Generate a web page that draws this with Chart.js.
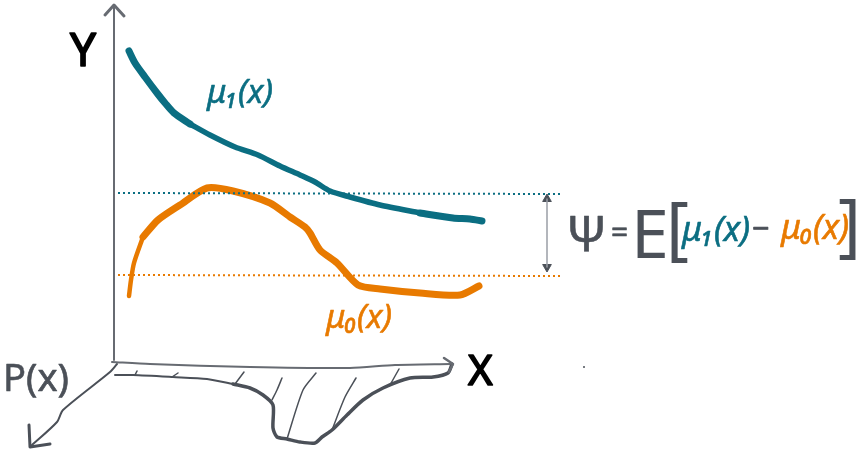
<!DOCTYPE html>
<html>
<head>
<meta charset="utf-8">
<style>
  html, body { margin: 0; padding: 0; background: #fff; }
  canvas { display: block; }
</style>
<script src="https://cdn.jsdelivr.net/npm/chart.js@4"></script>
</head>
<body>
<canvas id="sketch" width="860" height="454"></canvas>
<script>
// all values, in picture units
const mu1HeadX = [129, 135, 145, 157, 165, 174, 190];
const mu1HeadY = [51, 63, 77, 93, 103, 113, 124];
const mu1MidX = [190, 210, 235, 258, 280, 300, 315, 330, 350, 380, 420];
const mu1MidY = [124, 135, 147, 155, 166, 175, 182, 191, 197, 205, 213];
const mu1TailX = [420, 453, 470, 482];
const mu1TailY = [213, 218, 219, 221];
const mu0StartX = [129, 131, 134, 143];
const mu0StartY = [296, 280, 263, 237];
const mu0X = [143, 158, 180, 207, 233, 270, 290, 305, 310, 320, 337, 358, 380, 420, 460, 479];
const mu0Y = [237, 220, 205, 188, 191, 203, 217, 227, 233, 250, 263, 285, 289, 293, 295, 286];
const ateMu1Y = [193, 194];
const ateMu0Y = [275, 276];
const ateX = [118, 561];
const gapX = [547, 547];
const gapY = [199, 267];
const yAxisX = [114, 114];
const yAxisY = [5, 360];
const yHeadX = [105, 114, 124];
const yHeadY = [15, 5, 16];
const xAxisX = [112, 150, 250, 350, 395, 450];
const xAxisY = [362, 364, 367, 368, 365, 364];
const xHeadX = [444, 453, 449];
const xHeadY = [358, 364, 372];
const pAxisX = [117, 110, 63, 57, 31];
const pAxisY = [364, 372, 410, 422, 446];
const pHeadX = [29, 30, 50];
const pHeadY = [425, 447, 444];
const densityLeftX = [115, 133, 173, 207, 233];
const densityLeftY = [375, 375, 377, 379, 384];
const densityX = [233, 250, 263, 273, 273, 277, 287, 300, 315, 322, 332, 347, 363, 383, 410, 433, 448, 452];
const densityY = [384, 388, 395, 405, 428, 437, 439, 442, 443, 437, 430, 415, 400, 388, 378, 377, 373, 364];
const rugX = [[135, 137], [172, 178], [235, 244], [272, 277, 282], [287, 303, 316], [332, 345, 356], [390, 399]];
const rugY = [[375, 371], [377, 373], [384, 372], [400, 390, 378], [439, 390, 373], [430, 397, 378], [385, 369]];
const specX = [584];
const specY = [367];

const TEAL = '#0b6e82';
const ORANGE = '#e87a00';
const INK = '#4b5058';
const AXIS = '#676b72';

const labels = [
  { text: 'Y', x: 70, y: 66, size: 46, color: '#000', weight: 0.8 },
  { text: 'X', x: 468, y: 385, size: 42, color: '#000', weight: 0.8 },
  { text: 'P(x)', x: 3, y: 391, size: 38, color: INK, weight: 0.3 },
  { text: 'μ₁(x)', x: 207, y: 103, size: 33, color: TEAL, italic: true, weight: 0.3 },
  { text: 'μ₀(x)', x: 326, y: 328, size: 33, color: ORANGE, italic: true, weight: 0.3 },
  { text: 'Ψ', x: 566, y: 251, size: 50, color: INK, weight: 0.3 },
  { text: '=', x: 611, y: 243, size: 30, color: INK, weight: 0.3 },
  { text: 'E', x: 631, y: 258, size: 68, color: INK, weight: 0 },
  { text: '[', x: 666, y: 252, size: 70, color: INK, weight: 0 },
  { text: 'μ₁(x)', x: 682, y: 241, size: 34, color: TEAL, italic: true, weight: 0.3 },
  { text: '−', x: 752, y: 239, size: 30, color: INK, weight: 0.5 },
  { text: 'μ₀(x)', x: 781, y: 239, size: 34, color: ORANGE, italic: true, weight: 0.3 },
  { text: ']', x: 838, y: 249, size: 70, color: INK, weight: 0 },
];

function zip(xs, ys) {
  return xs.map((x, i) => ({ x, y: ys[i] }));
}

function stroke(xs, ys, color, width, extra) {
  return {
    data: zip(xs, ys),
    borderColor: color,
    backgroundColor: color,
    borderWidth: width,
    borderCapStyle: 'round',
    borderJoinStyle: 'round',
    pointRadius: 0,
    tension: 0.25,
    ...extra,
  };
}

const handLabels = {
  id: 'handLabels',
  afterDatasetsDraw(chart) {
    const { ctx, scales } = chart;
    ctx.save();
    ctx.textAlign = 'left';
    ctx.textBaseline = 'alphabetic';
    labels.forEach((l) => {
      const px = scales.x.getPixelForValue(l.x);
      const py = scales.y.getPixelForValue(l.y);
      ctx.font = `${l.italic ? 'italic ' : ''}${l.size}px "Noto Sans", "DejaVu Sans", sans-serif`;
      ctx.fillStyle = l.color;
      ctx.fillText(l.text, px, py);
      if (l.weight) {
        ctx.strokeStyle = l.color;
        ctx.lineWidth = l.weight * 2;
        ctx.lineJoin = 'round';
        ctx.strokeText(l.text, px, py);
      }
    });
    ctx.restore();
  },
};

new Chart(document.getElementById('sketch'), {
  type: 'line',
  data: {
    datasets: [
      stroke(ateX, ateMu1Y, TEAL, 2, { borderDash: [2, 3], borderCapStyle: 'butt', tension: 0 }),
      stroke(ateX, ateMu0Y, ORANGE, 2, { borderDash: [2, 3], borderCapStyle: 'butt', tension: 0 }),
      stroke(mu1HeadX, mu1HeadY, TEAL, 7),
      stroke(mu1MidX, mu1MidY, TEAL, 5.5),
      stroke(mu1TailX, mu1TailY, TEAL, 7),
      stroke(mu0StartX, mu0StartY, ORANGE, 4.5),
      stroke(mu0X, mu0Y, ORANGE, 7),
      stroke(gapX, gapY, '#9b9fa6', 1.5, { tension: 0 }),
      // arrow tips of the gap marker
      {
        data: zip(gapX, gapY),
        showLine: false,
        pointStyle: 'triangle',
        pointRadius: 5,
        pointRotation: [0, 180],
        pointBackgroundColor: INK,
        pointBorderColor: INK,
      },
      stroke(yAxisX, yAxisY, AXIS, 2, { tension: 0 }),
      stroke(yHeadX, yHeadY, AXIS, 3, { tension: 0 }),
      stroke(xAxisX, xAxisY, AXIS, 2),
      stroke(xHeadX, xHeadY, AXIS, 2.5, { tension: 0 }),
      stroke(pAxisX, pAxisY, INK, 2),
      stroke(pHeadX, pHeadY, INK, 3, { tension: 0 }),
      stroke(densityLeftX, densityLeftY, INK, 2),
      stroke(densityX, densityY, INK, 3.5),
      ...rugX.map((xs, i) => stroke(xs, rugY[i], INK, 1.5)),
      {
        data: zip(specX, specY),
        showLine: false,
        pointRadius: 1,
        pointBackgroundColor: INK,
        pointBorderWidth: 0,
      },
    ],
  },
  options: {
    responsive: false,
    animation: false,
    layout: { padding: 0, autoPadding: false },
    plugins: { legend: { display: false }, tooltip: { enabled: false } },
    scales: {
      x: { type: 'linear', min: 0, max: 860, display: false },
      y: { type: 'linear', min: 0, max: 454, reverse: true, display: false },
    },
  },
  plugins: [handLabels],
});
</script>
</body>
</html>
